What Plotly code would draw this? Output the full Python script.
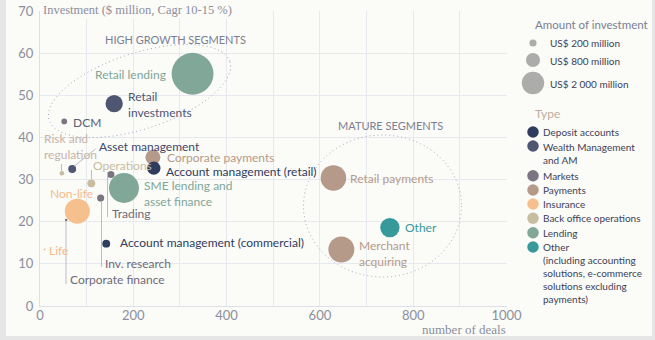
import numpy as np
import plotly.graph_objects as go

# ---------------- data ----------------
segments = ["Retail lending", "Retail investments", "DCM", "Risk and regulation",
            "Asset management", "Operations", "Trading", "Inv. research",
            "Corporate payments", "Account management (retail)",
            "SME lending and asset finance", "Non-life", "Life", "Corporate finance",
            "Account management (commercial)", "Retail payments",
            "Merchant acquiring", "Other"]
deals = [327, 159, 52, 47, 69, 110, 152, 130, 242, 244, 180, 80, 10, 56, 142, 629, 646, 750]
growth = [55.1, 48.0, 43.8, 31.5, 32.5, 29.1, 31.2, 25.6, 35.3, 32.7, 28.0, 22.5, 13.4, 20.4, 14.8, 30.4, 13.4, 18.6]
investment = [7000, 1200, 130, 90, 250, 250, 200, 200, 900, 700, 3600, 2500, 16, 25, 250, 2600, 2700, 1500]
seg_type = ["Lending", "Wealth Management and AM", "Markets", "Back office operations",
            "Wealth Management and AM", "Back office operations", "Markets", "Markets",
            "Payments", "Deposit accounts", "Lending", "Insurance", "Insurance", "Markets",
            "Deposit accounts", "Payments", "Payments", "Other"]

types = ["Deposit accounts", "Wealth Management and AM", "Markets", "Payments",
         "Insurance", "Back office operations", "Lending", "Other"]
type_labels = ["Deposit accounts", "Wealth Management<br>and AM", "Markets", "Payments",
               "Insurance", "Back office operations", "Lending",
               "Other<br>(including accounting<br>solutions, e-commerce<br>solutions excluding<br>payments)"]
type_colors = ["#2f3c5e", "#4f5672", "#7b7582", "#b59a8a", "#f6bf8e", "#c9bd9f", "#80a797", "#38999b"]

size_legend_values = [200, 800, 2000]
size_legend_labels = ["US$ 200 million", "US$ 800 million", "US$ 2 000 million"]

x_ticks = [0, 200, 400, 600, 800, 1000]
y_ticks = [0, 10, 20, 30, 40, 50, 60, 70]

# ---------------- styling helpers ----------------
PANEL = "#fbfbf8"
OUTER = "#e6e6e6"
GRID = "#e7e9ef"
TICK = "#8b8f9c"
SANS = "Lato"
SERIF = "Liberation Serif"
SIZEREF = 8.0

W, H = 655, 340
ML, MT, MB = 40, 11, 34
PW = W - ML
PH = H - MT - MB
XPX = 466.5  # px for 1000 deals


def X(px):
    return (px - 40.5) / (XPX / 1000.0)


def Y(py):
    return (H - MB - py) / (PH / 70.0)


cmap = dict(zip(types, type_colors))

fig = go.Figure()

fig.add_trace(go.Scatter(
    x=deals, y=growth, mode="markers", text=segments,
    marker=dict(size=investment, sizemode="area", sizeref=SIZEREF,
                color=[cmap[t] for t in seg_type], opacity=1,
                line=dict(width=0)),
    hoverinfo="text", showlegend=False, cliponaxis=False))

# size legend (on helper axes in pixel units)
fig.add_trace(go.Scatter(
    x=[533] * 3, y=[43, 60, 83], mode="markers",
    marker=dict(size=size_legend_values, sizemode="area", sizeref=SIZEREF,
                color="#8a8a8a", line=dict(width=0)),
    xaxis="x2", yaxis="y2", showlegend=False, hoverinfo="skip"))

type_y = [132, 146, 175.7, 190, 204, 218.3, 232.7, 247]
fig.add_trace(go.Scatter(
    x=[533] * len(types), y=type_y, mode="markers",
    marker=dict(size=11.5, color=type_colors, line=dict(width=0)),
    xaxis="x2", yaxis="y2", showlegend=False, hoverinfo="skip"))

ann = []


def lab(text, px, py, color, anchor="left", size=12, font=SANS):
    ann.append(dict(text=text, x=X(px), y=Y(py), xref="x", yref="y",
                    xanchor=anchor, yanchor="middle", showarrow=False,
                    font=dict(family=font, size=size, color=color), align="left"))


c_dep, c_wm, c_mk, c_pay, c_ins, c_bo, c_len, c_oth = type_colors
lab("Retail lending", 168, 74, "#7fa696", anchor="right")
lab("Retail<br>investments", 126, 104.5, c_wm)
lab("DCM", 71, 122, "#5a5e74")
lab("Risk and<br>regulation", 42, 146.5, "#c7b4a5")
lab("Asset management", 97, 146, "#3d4868")
lab("Operations", 91, 165, "#c9bca0")
lab("Corporate payments", 165, 157.5, c_pay)
lab("Account management (retail)", 164, 171.5, c_dep)
lab("SME lending and<br>asset finance", 142, 193, "#80a797")
lab("Non-life", 48, 193, "#f5b98a")
lab("Trading", 110, 213, "#6e6a78")
lab("Life", 47, 250, "#f5b98a")
lab("Account management (commercial)", 118, 242.5, c_dep)
lab("Inv. research", 103, 263, "#6e6a78")
lab("Corporate finance", 68, 279, "#6e6a78")
lab("Retail payments", 348, 178.5, c_pay)
lab("Other", 403, 227.5, c_oth)
lab("Merchant<br>acquiring", 357, 253.5, c_pay)
lab("HIGH GROWTH SEGMENTS", 176, 39, "#7a7f93", anchor="center", size=11)
lab("MATURE SEGMENTS", 391, 125, "#7a7f93", anchor="center", size=11)

# axis titles
ann.append(dict(text="Investment ($ million, Cagr 10-15 %)", xref="paper", yref="paper",
                x=0.001, y=(H - MB - 10) / PH, xanchor="left", yanchor="middle",
                showarrow=False, bgcolor=PANEL, borderpad=1,
                font=dict(family=SERIF, size=12.5, color=TICK)))
ann.append(dict(text="number of deals", xref="paper", yref="paper",
                x=(508 - ML) / PW, y=(H - MB - 329) / PH, xanchor="right", yanchor="middle",
                showarrow=False, font=dict(family=SERIF, size=13, color=TICK)))

# legend texts
def leg(text, px, py, color, size=10):
    ann.append(dict(text=text, x=px, y=py, xref="x2", yref="y2", xanchor="left",
                    yanchor="middle", showarrow=False, align="left",
                    font=dict(family=SANS, size=size, color=color)))


leg("Amount of investment", 533, 24, "#7a7f93", size=11.5)
for v, lbl, yy in zip(size_legend_values, size_legend_labels, [43, 60.5, 84]):
    leg(lbl, 548, yy, "#3d4157")
leg("Type", 533, 113, "#c2aaa0", size=12)
type_text_y = [132, 153, 175.7, 190, 204, 218.3, 232.7, 272.5]
for t, yy in zip(type_labels, type_text_y):
    leg(t, 541, yy, "#3d4157")

# shapes
shapes = []
# panel
shapes.append(dict(type="rect", xref="paper", yref="paper",
                   x0=(6 - ML) / PW, x1=(652 - ML) / PW,
                   y0=(H - MB - 336) / PH, y1=(H - MB - 0) / PH,
                   fillcolor=PANEL, line=dict(width=0), layer="below"))

# leader lines (px)
leaders = [((62, 164), (62, 171)), ((75, 166), (96, 149)), ((92, 170), (92, 179)),
           ((108, 172), (108, 217)), ((102, 202), (102, 267)), ((66.5, 221), (66.5, 284))]
for (a, b) in leaders:
    shapes.append(dict(type="line", xref="x", yref="y", x0=X(a[0]), y0=Y(a[1]),
                       x1=X(b[0]), y1=Y(b[1]), line=dict(color="#b9bdc9", width=1)))

DOTLINE = dict(color="#9ea6bf", width=1, dash="1px,3px")
# high growth ellipse (tilted)
cx, cy, aa, bb, phi = 140, 91, 95, 38, np.radians(18)
th = np.linspace(0, 2 * np.pi, 120)
epx = cx + aa * np.cos(th) * np.cos(phi) + bb * np.sin(th) * np.sin(phi)
epy = cy - aa * np.cos(th) * np.sin(phi) + bb * np.sin(th) * np.cos(phi)
path = "M " + " L ".join(f"{X(p):.2f},{Y(q):.3f}" for p, q in zip(epx, epy)) + " Z"
shapes.append(dict(type="path", xref="x", yref="y", path=path, line=DOTLINE))
# mature ellipse
shapes.append(dict(type="circle", xref="x", yref="y", x0=X(304), x1=X(462),
                   y0=Y(277), y1=Y(135), line=DOTLINE))

fig.update_layout(
    template="none",
    width=W, height=H, autosize=False,
    margin=dict(l=ML, r=0, t=MT, b=MB, pad=0, autoexpand=False),
    paper_bgcolor=OUTER, plot_bgcolor="rgba(0,0,0,0)",
    xaxis=dict(domain=[0, XPX / PW], range=[0, 1000], tickvals=x_ticks,
               showgrid=True, gridcolor=GRID, gridwidth=1,
               minor=dict(dtick=100, showgrid=True, gridcolor=GRID, gridwidth=1, ticks=""),
               zeroline=False, showline=True, linecolor="#dde0e7", linewidth=1, ticks="",
               automargin=False, ticklabelstandoff=-3,
               tickfont=dict(family=SANS, size=13, color=TICK), fixedrange=True),
    yaxis=dict(range=[0, 70], tickvals=y_ticks, showgrid=True, gridcolor=GRID, gridwidth=1,
               zeroline=False, showline=True, linecolor="#dde0e7", linewidth=1, ticks="",
               ticklabelstandoff=3, automargin=False,
               tickfont=dict(family=SANS, size=13, color=TICK), fixedrange=True),
    xaxis2=dict(domain=[(520 - ML) / PW, 1], range=[520, 655], visible=False,
                anchor="y2", fixedrange=True, automargin=False),
    yaxis2=dict(domain=[0, 1], range=[H - MB, MT], visible=False, anchor="x2",
                fixedrange=True, automargin=False),
    annotations=ann, shapes=shapes, showlegend=False,
)

fig.write_html("out.html")
